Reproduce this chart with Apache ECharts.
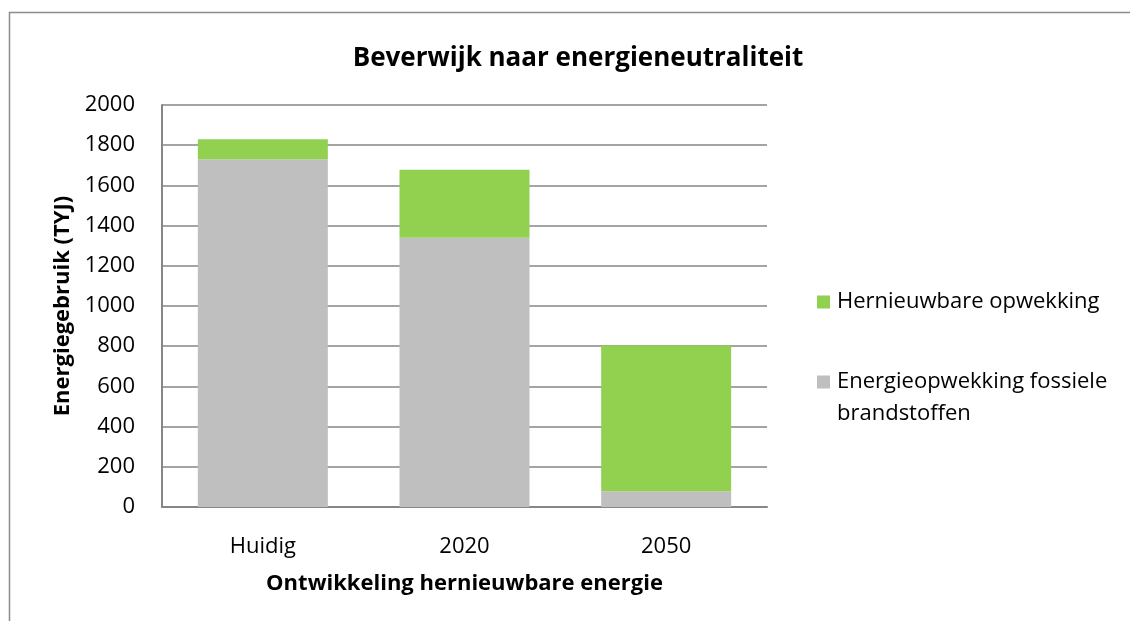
<!DOCTYPE html>
<html>
<head>
<meta charset="utf-8">
<script src="https://cdn.jsdelivr.net/npm/echarts@6/dist/echarts.min.js"></script>
<style>
	html, body { margin: 0; padding: 0; background: #fff; }
	#chart { width: 1130px; height: 621px; }
</style>
</head>
<body>
<div id="chart"></div>
<script>
var categories = ['Huidig', '2020', '2050'];
var fossiel = [1730, 1340, 78];
var hernieuwbaar = [100, 338, 725];
var yTicks = [0, 200, 400, 600, 800, 1000, 1200, 1400, 1600, 1800, 2000];

var font = '"Open Sans", "Liberation Sans", sans-serif';
var legendText = { fontFamily: font, fontSize: 22, color: '#000', lineHeight: 32, padding: [0, 0, 0, 2] };
var myChart = echarts.init(document.getElementById('chart'));
var option = {
	textStyle: { fontFamily: font },
	graphic: [{
		type: 'rect',
		shape: { x: 9.5, y: 12.5, width: 1140, height: 640 },
		style: { fill: null, stroke: '#8c8c8c', lineWidth: 1.5 },
		silent: true
	}],
	title: {
		text: 'Beverwijk naar energieneutraliteit',
		left: 573,
		textAlign: 'center',
		top: 41,
		textStyle: { fontFamily: font, fontSize: 26, fontWeight: 'bold', color: '#000' }
	},
	// twee legenda's; lege eerste regel zodat het icoon bij "Energieopwekking" staat
	legend: [{
		orient: 'vertical',
		left: 812,
		top: 281,
		itemWidth: 13,
		itemHeight: 13,
		icon: 'rect',
		data: ['Hernieuwbare opwekking'],
		textStyle: legendText
	}, {
		orient: 'vertical',
		left: 812,
		top: 329,
		itemWidth: 13,
		itemHeight: 13,
		icon: 'rect',
		data: ['Energieopwekking fossiele brandstoffen'],
		formatter: function () { return ' \nEnergieopwekking fossiele\nbrandstoffen'; },
		textStyle: legendText
	}],
	grid: { left: 162, right: 363, top: 105, bottom: 114 },
	xAxis: {
		type: 'category',
		data: categories,
		name: 'Ontwikkeling hernieuwbare energie',
		nameLocation: 'middle',
		nameGap: 66,
		nameTextStyle: { fontFamily: font, fontSize: 22, fontWeight: 'bold', color: '#000' },
		axisLine: { lineStyle: { color: '#868686', width: 2 } },
		axisTick: { show: false },
		axisLabel: { fontFamily: font, fontSize: 22, color: '#000', margin: 29 }
	},
	yAxis: {
		type: 'value',
		min: yTicks[0],
		max: yTicks[yTicks.length - 1],
		interval: 200,
		name: 'Energiegebruik (TYJ)',
		nameLocation: 'middle',
		nameGap: 88,
		nameTextStyle: { fontFamily: font, fontSize: 22, fontWeight: 'bold', color: '#000' },
		axisLine: { show: true, lineStyle: { color: '#868686', width: 2 } },
		axisTick: { show: false },
		axisLabel: { fontFamily: font, fontSize: 22, color: '#000', margin: 27, formatter: function (v) { return String(v); } },
		splitLine: { lineStyle: { color: '#868686', width: 1.5 } }
	},
	series: [
		{
			name: 'Energieopwekking fossiele brandstoffen',
			type: 'bar',
			stack: 'totaal',
			barWidth: 130,
			data: fossiel,
			itemStyle: { color: '#bfbfbf' }
		},
		{
			name: 'Hernieuwbare opwekking',
			type: 'bar',
			stack: 'totaal',
			barWidth: 130,
			data: hernieuwbaar,
			itemStyle: { color: '#92d050' }
		}
	]
};
myChart.setOption(option);
</script>
</body>
</html>
